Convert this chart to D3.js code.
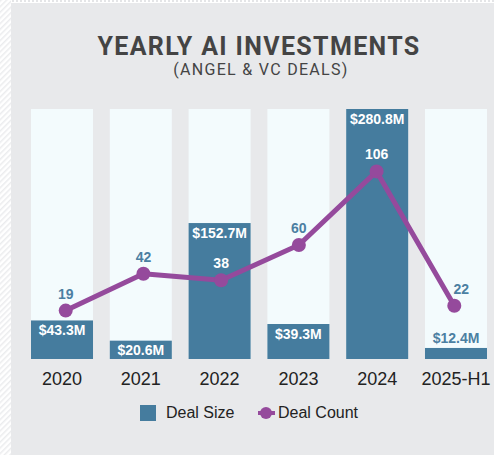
<!DOCTYPE html>
<html>
<head>
<meta charset="utf-8">
<script src="https://cdn.jsdelivr.net/npm/d3@7"></script>
<style>
  html, body { margin: 0; padding: 0; background: #fff; }
  svg { display: block; }
</style>
</head>
<body>
<div class="canvas"></div>
<script>
// data
var years = ['2020', '2021', '2022', '2023', '2024', '2025-H1'];
var dealSize = [43.3, 20.6, 152.7, 39.3, 280.8, 12.4];   // $M
var dealCount = [19, 42, 38, 60, 106, 22];
var legendLabels = ['Deal Size', 'Deal Count'];

var width = 494, height = 455;
var barColor = '#457c9e', lineColor = '#954a9c', labelBlue = '#4b7fa2';

var svg = d3.select('.canvas')
    .append('svg')
    .attr('width', width)
    .attr('height', height);

// background bits: hatched strip on the left, dotted strip on top
var defs = svg.append('defs');
var hatch = defs.append('pattern')
    .attr('id', 'hatch')
    .attr('width', 4).attr('height', 4)
    .attr('patternUnits', 'userSpaceOnUse')
    .attr('patternTransform', 'rotate(45)');
hatch.append('rect').attr('width', 4).attr('height', 4).attr('fill', '#fff');
hatch.append('rect').attr('width', 1.5).attr('height', 4).attr('fill', '#ebecee');

var dots = defs.append('pattern')
    .attr('id', 'dots')
    .attr('width', 4).attr('height', 4)
    .attr('patternUnits', 'userSpaceOnUse');
dots.append('rect').attr('width', 4).attr('height', 4).attr('fill', '#fff');
dots.append('rect').attr('width', 2).attr('height', 2).attr('fill', '#e4e5e7');

svg.append('rect').attr('x', 0).attr('y', 0).attr('width', width).attr('height', height)
    .attr('fill', 'url(#hatch)');
svg.append('rect').attr('x', 11).attr('y', 0).attr('width', width - 11).attr('height', 3)
    .attr('fill', 'url(#dots)');
svg.append('rect').attr('x', 11).attr('y', 3).attr('width', width - 11).attr('height', height - 3)
    .attr('fill', '#e8e9eb');

// titles
svg.append('text')
    .attr('x', 259).attr('y', 55)
    .attr('text-anchor', 'middle')
    .attr('font-family', 'Roboto, sans-serif')
    .attr('font-size', '25px')
    .attr('font-weight', 'bold')
    .attr('letter-spacing', '1.35px')
    .attr('fill', '#444')
    .text('YEARLY AI INVESTMENTS');

svg.append('text')
    .attr('x', 261).attr('y', 75)
    .attr('text-anchor', 'middle')
    .attr('font-family', 'Roboto, sans-serif')
    .attr('font-size', '16px')
    .attr('letter-spacing', '1.3px')
    .attr('fill', '#444')
    .text('(ANGEL & VC DEALS)');

// scales
var x = d3.scaleBand().domain(years).range([31, 487]).paddingInner(0.213);
var y = d3.scaleLinear().domain([0, d3.max(dealSize)]).range([359, 109]);
var xl = d3.scalePoint().domain(years).range([65.7, 454.3]);
var y2 = d3.scaleLinear().domain([0, 145]).range([341, 109]);

var g = svg.append('g');

// column backgrounds
g.selectAll('.col')
    .data(years)
    .enter().append('rect')
    .attr('class', 'col')
    .attr('x', function(d) { return x(d); })
    .attr('y', y.range()[1])
    .attr('width', x.bandwidth())
    .attr('height', y.range()[0] - y.range()[1])
    .attr('fill', '#f3fbfd');

// bars
g.selectAll('.bar')
    .data(dealSize)
    .enter().append('rect')
    .attr('class', 'bar')
    .attr('x', function(d, i) { return x(years[i]); })
    .attr('y', function(d) { return y(d); })
    .attr('width', x.bandwidth())
    .attr('height', function(d) { return y(0) - y(d); })
    .attr('fill', barColor);

// bar labels
g.selectAll('.barlabel')
    .data(dealSize)
    .enter().append('text')
    .attr('class', 'barlabel')
    .attr('x', function(d, i) { return x(years[i]) + x.bandwidth() / 2; })
    .attr('y', function(d) {
        var h = y(0) - y(d);
        if (h >= 30) return y(d) + 15;
        if (h >= 16) return y(d) + h / 2 + 5;
        return y(d) - 5;
    })
    .attr('text-anchor', 'middle')
    .attr('font-family', 'Liberation Sans, Arial, sans-serif')
    .attr('font-size', '14px')
    .attr('font-weight', 'bold')
    .attr('fill', function(d) { return (y(0) - y(d)) >= 16 ? '#fff' : labelBlue; })
    .text(function(d) { return '$' + d.toFixed(1) + 'M'; });

// line
var line = d3.line()
    .x(function(d, i) { return xl(years[i]); })
    .y(function(d) { return y2(d); });

g.append('path')
    .datum(dealCount)
    .attr('d', line)
    .attr('fill', 'none')
    .attr('stroke', lineColor)
    .attr('stroke-width', 5)
    .attr('stroke-linejoin', 'round');

g.selectAll('.pt')
    .data(dealCount)
    .enter().append('circle')
    .attr('class', 'pt')
    .attr('cx', function(d, i) { return xl(years[i]); })
    .attr('cy', function(d) { return y2(d); })
    .attr('r', 7)
    .attr('fill', lineColor);

g.selectAll('.ptlabel')
    .data(dealCount)
    .enter().append('text')
    .attr('class', 'ptlabel')
    .attr('x', function(d, i) { return xl(years[i]) + (i == years.length - 1 ? 7 : 0); })
    .attr('y', function(d) { return y2(d) - 12; })
    .attr('text-anchor', 'middle')
    .attr('font-family', 'Liberation Sans, Arial, sans-serif')
    .attr('font-size', '14px')
    .attr('font-weight', 'bold')
    .attr('fill', function(d, i) { return (y2(d) - 16) > y(dealSize[i]) ? '#fff' : labelBlue; })
    .text(function(d) { return d; });

// x axis labels
g.selectAll('.xlab')
    .data(years)
    .enter().append('text')
    .attr('class', 'xlab')
    .attr('x', function(d) { return x(d) + x.bandwidth() / 2; })
    .attr('y', 385)
    .attr('text-anchor', 'middle')
    .attr('font-family', 'Liberation Sans, Arial, sans-serif')
    .attr('font-size', '18px')
    .attr('fill', '#222')
    .text(function(d) { return d; });

// legend
var lg = svg.append('g');
lg.append('rect')
    .attr('x', 140).attr('y', 405)
    .attr('width', 16).attr('height', 16)
    .attr('fill', barColor);
lg.append('text')
    .attr('x', 166).attr('y', 418)
    .attr('font-family', 'Liberation Sans, Arial, sans-serif')
    .attr('font-size', '16px')
    .attr('fill', '#222')
    .text(legendLabels[0]);
lg.append('line')
    .attr('x1', 258).attr('x2', 275)
    .attr('y1', 413).attr('y2', 413)
    .attr('stroke', lineColor)
    .attr('stroke-width', 4);
lg.append('circle')
    .attr('cx', 266).attr('cy', 413).attr('r', 6)
    .attr('fill', lineColor);
lg.append('text')
    .attr('x', 278).attr('y', 418)
    .attr('font-family', 'Liberation Sans, Arial, sans-serif')
    .attr('font-size', '16px')
    .attr('fill', '#222')
    .text(legendLabels[1]);
</script>
</body>
</html>
